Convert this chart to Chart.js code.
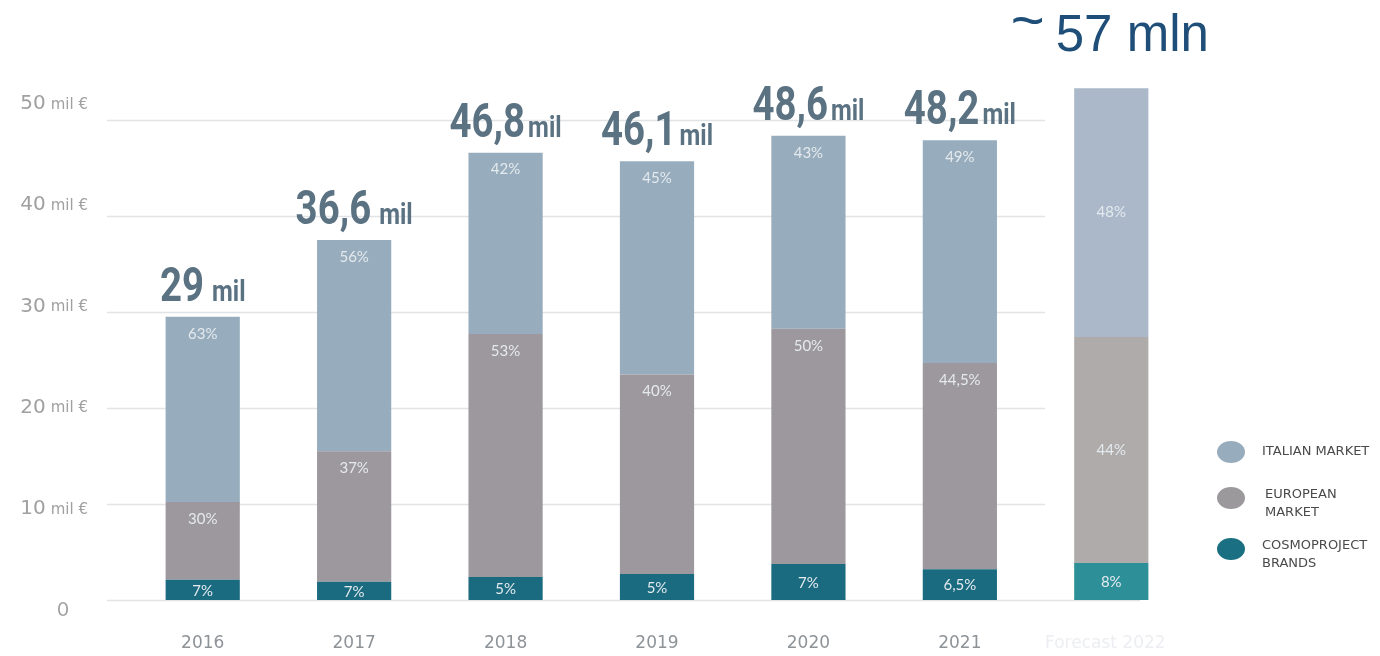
<!DOCTYPE html>
<html>
<head>
<meta charset="utf-8">
<script src="https://cdn.jsdelivr.net/npm/chart.js@4/dist/chart.umd.min.js"></script>
<style>
    body { margin: 0; background: #ffffff; }
    #wrap { width: 1380px; height: 656px; position: relative; }
</style>
</head>
<body>
<div id="wrap"><canvas id="revenueChart"></canvas></div>
<script>
// Categories (years) shown along the bottom
let years = ['2016', '2017', '2018', '2019', '2020', '2021', 'Forecast 2022'];

// Stacked values in millions of euro
let cosmoValues = [2.1, 1.9, 2.4, 2.7, 3.75, 3.2, 3.85];
let europeanValues = [8.1, 13.6, 25.3, 20.8, 24.5, 21.5, 23.55];
let italianValues = [19.3, 22.0, 18.9, 22.2, 20.1, 23.2, 25.9];

// Percent labels written inside each segment
let cosmoPct = ['7%', '7%', '5%', '5%', '7%', '6,5%', '8%'];
let europeanPct = ['30%', '37%', '53%', '40%', '50%', '44,5%', '44%'];
let italianPct = ['63%', '56%', '42%', '45%', '43%', '49%', '48%'];

// Totals written above the bars
let totalLabels = ['29', '36,6', '46,8', '46,1', '48,6', '48,2'];
let forecastLabel = '57 mln';

// Y axis ticks
let yTicks = [0, 10, 20, 30, 40, 50];

// Colours for the historical bars and the lighter forecast bar
let italianColors = ['#97acbc', '#97acbc', '#97acbc', '#97acbc', '#97acbc', '#97acbc', '#abb8ca'];
let europeanColors = ['#9d989d', '#9d989d', '#9d989d', '#9d989d', '#9d989d', '#9d989d', '#afabab'];
let cosmoColors = ['#1a6b80', '#1a6b80', '#1a6b80', '#1a6b80', '#1a6b80', '#1a6b80', '#2d8f98'];

// Condensed look for the totals: Roboto bold squeezed horizontally
let squeeze = 0.8;

// Draws a horizontally squeezed text
function drawNarrow(ctx, text, x, y) {
    ctx.save();
    ctx.translate(x, y);
    ctx.scale(squeeze, 1);
    ctx.fillText(text, 0, 0);
    ctx.restore();
}

// Draws grid, labels, totals and legend around the bars
let decorPlugin = {
    id: 'decor',
    beforeDatasetsDraw(chart) {
        let ctx = chart.ctx;
        let y = chart.scales.y;
        let area = chart.chartArea;
        ctx.save();
        ctx.strokeStyle = '#e1e4e7';
        ctx.lineWidth = 1.5;
        for (let i = 0; i < yTicks.length; i++) {
            let py = Math.round(y.getPixelForValue(yTicks[i])) + 0.5;
            ctx.beginPath();
            ctx.moveTo(area.left - 20, py);
            ctx.lineTo(yTicks[i] === 0 ? area.right - 47 : area.right - 142, py);
            ctx.stroke();
        }
        ctx.restore();
    },
    afterDatasetsDraw(chart) {
        let ctx = chart.ctx;
        let yScale = chart.scales.y;
        let xScale = chart.scales.x;
        let cosmoBars = chart.getDatasetMeta(0).data;
        let euroBars = chart.getDatasetMeta(1).data;
        let italBars = chart.getDatasetMeta(2).data;
        let last = years.length - 1;
        ctx.save();

        // Percent labels inside the segments
        ctx.font = '15px Lato, sans-serif';
        ctx.textAlign = 'center';
        ctx.textBaseline = 'middle';
        ctx.fillStyle = '#e4eaee';
        for (let i = 0; i < years.length; i++) {
            let c = cosmoBars[i], e = euroBars[i], it = italBars[i];
            ctx.fillText(cosmoPct[i], c.x, (c.y + c.base) / 2 + 1);
            if (i === last) {
                ctx.fillText(europeanPct[i], e.x, (e.y + e.base) / 2);
                ctx.fillText(italianPct[i], it.x, (it.y + it.base) / 2);
            } else {
                ctx.fillText(europeanPct[i], e.x, e.y + 17);
                ctx.fillText(italianPct[i], it.x, it.y + 17);
            }
        }

        // Totals above the historical bars
        ctx.fillStyle = '#5a7282';
        ctx.textBaseline = 'alphabetic';
        ctx.textAlign = 'left';
        let bigFont = 'bold 48px Roboto, sans-serif';
        let smallFont = 'bold 30px Roboto, sans-serif';
        for (let i = 0; i < totalLabels.length; i++) {
            let bar = italBars[i];
            let gap = (i < 2) ? 8 : 3;
            ctx.font = bigFont;
            let w1 = ctx.measureText(totalLabels[i]).width * squeeze;
            ctx.font = smallFont;
            let w2 = ctx.measureText('mil').width * squeeze;
            let startX = bar.x - (w1 + gap + w2) / 2;
            let baseY = bar.y - 16;
            ctx.font = bigFont;
            drawNarrow(ctx, totalLabels[i], startX, baseY);
            ctx.font = smallFont;
            drawNarrow(ctx, 'mil', startX + w1 + gap, baseY);
        }

        // Forecast headline "~ 57 mln"
        let fb = italBars[last];
        ctx.fillStyle = '#1f4e79';
        ctx.font = '51px "Liberation Sans", Arial, sans-serif';
        let fw = ctx.measureText(forecastLabel).width;
        let fx = fb.x + 21 - fw / 2;
        ctx.fillText(forecastLabel, fx, 51);
        ctx.font = '58px "Liberation Sans", Arial, sans-serif';
        ctx.fillText('~', fx - 45, 40);

        // Y axis labels
        ctx.fillStyle = '#a0a0a0';
        ctx.textBaseline = 'middle';
        for (let i = 0; i < yTicks.length; i++) {
            let v = yTicks[i];
            let py = yScale.getPixelForValue(v) + 10 - v * 0.52;
            if (v === 0) {
                ctx.textAlign = 'center';
                ctx.font = '19px Lato, sans-serif';
                ctx.fillText('0', 63, py);
                continue;
            }
            ctx.textAlign = 'right';
            ctx.font = '15px "DejaVu Sans", sans-serif';
            ctx.fillText('mil €', 88, py + 1);
            let mw = ctx.measureText('mil €').width;
            ctx.font = '20px "DejaVu Sans", sans-serif';
            ctx.fillText(String(v), 88 - mw - 5, py);
        }

        // X axis labels
        ctx.textAlign = 'center';
        ctx.font = '17px "DejaVu Sans", sans-serif';
        for (let i = 0; i < years.length; i++) {
            ctx.fillStyle = (i === last) ? '#eceef1' : '#8e9398';
            let px = xScale.getPixelForValue(i);
            if (i === last) px -= 6;
            ctx.fillText(years[i], px, 644);
        }

        // Legend
        let legendItems = [
            { color: '#97adbd', lines: ['ITALIAN MARKET'], y: 452, tx: 1262 },
            { color: '#9c999c', lines: ['EUROPEAN', 'MARKET'], y: 498, tx: 1265 },
            { color: '#1b6f83', lines: ['COSMOPROJECT', 'BRANDS'], y: 549, tx: 1262 }
        ];
        ctx.font = '13px "DejaVu Sans", sans-serif';
        ctx.textAlign = 'left';
        for (let i = 0; i < legendItems.length; i++) {
            let item = legendItems[i];
            ctx.fillStyle = item.color;
            ctx.beginPath();
            ctx.ellipse(1231, item.y, 14, 11, 0, 0, Math.PI * 2);
            ctx.fill();
            ctx.fillStyle = '#4a4a4a';
            if (item.lines.length === 1) {
                ctx.fillText(item.lines[0], item.tx, item.y);
            } else {
                ctx.fillText(item.lines[0], item.tx, item.y - 3);
                ctx.fillText(item.lines[1], item.tx, item.y + 15);
            }
        }
        ctx.restore();
    }
};

// Builds the stacked bar chart
function buildChart() {
    let ctx = document.getElementById('revenueChart').getContext('2d');
    let myChart = new Chart(ctx, {
        type: 'bar',
        data: {
            labels: years,
            datasets: [
                { label: 'COSMOPROJECT BRANDS', data: cosmoValues, backgroundColor: cosmoColors },
                { label: 'EUROPEAN MARKET', data: europeanValues, backgroundColor: europeanColors },
                { label: 'ITALIAN MARKET', data: italianValues, backgroundColor: italianColors }
            ]
        },
        options: {
            responsive: true,
            maintainAspectRatio: false,
            animation: false,
            barPercentage: 0.49,
            categoryPercentage: 1,
            layout: { padding: { left: 127, right: 193, top: 72, bottom: 56 } },
            plugins: { legend: { display: false }, tooltip: { enabled: false } },
            scales: {
                x: { stacked: true, display: false, offset: true },
                y: { stacked: true, display: false, min: 0, max: 55 }
            }
        },
        plugins: [decorPlugin]
    });
}

buildChart();
</script>
</body>
</html>
